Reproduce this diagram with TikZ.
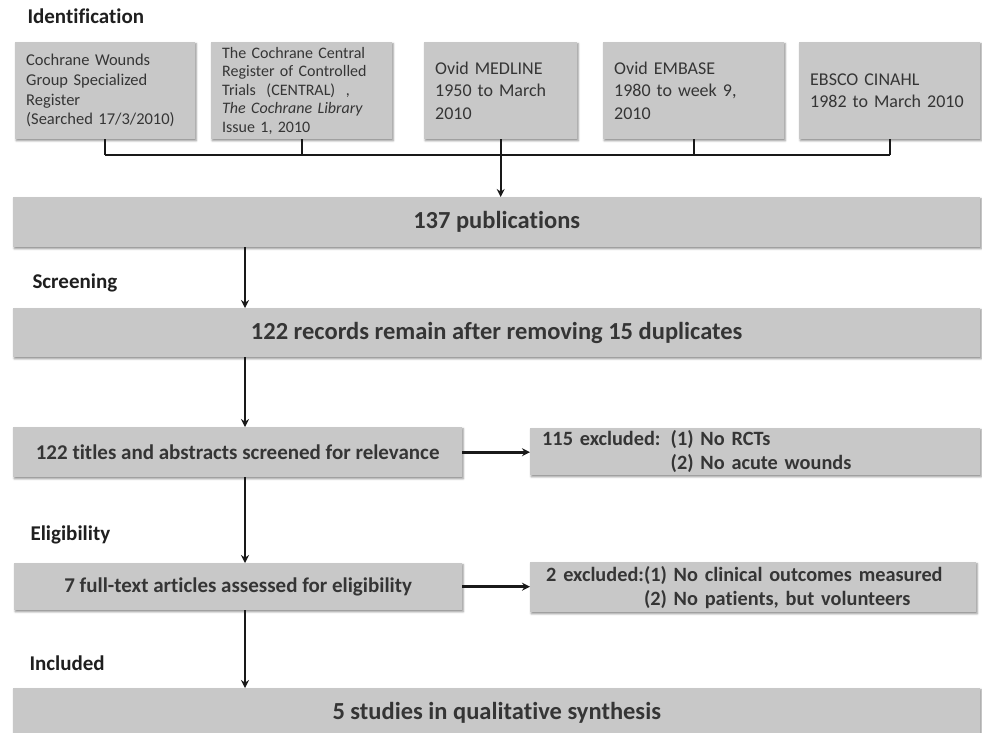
\documentclass[tikz,border=0pt]{standalone}
\usepackage{fontspec}
\setmainfont{Carlito}[Ligatures=NoCommon]
\usepackage{xcolor}
\usetikzlibrary{arrows.meta,calc,shadows.blur}
\definecolor{boxgray}{HTML}{C8C8C8}
\definecolor{boxtext}{HTML}{353535}
\tikzset{
	srcbox/.style={
			fill=boxgray, draw=none, anchor=north west,
			inner xsep=11pt, inner ysep=0pt, minimum height=97pt,
			align=left, text=boxtext,
			blur shadow={shadow xshift=1pt, shadow yshift=-1.5pt, shadow blur radius=2pt, shadow opacity=45}
		},
	stagebox/.style={
			fill=boxgray, draw=none, anchor=north west, inner sep=0pt,
			text=boxtext, font=\fontsize{24.5}{28}\selectfont\bfseries,
			blur shadow={shadow xshift=1pt, shadow yshift=-1.5pt, shadow blur radius=2pt, shadow opacity=45}
		},
	exclbox/.style={
			stagebox, inner xsep=12pt, align=left,
			font=\fontsize{20.3}{24}\selectfont\bfseries
		},
	phase/.style={anchor=base west, text=black!88, font=\fontsize{21}{25}\selectfont\bfseries},
	conn/.style={line width=1.8pt, black!90},
	side/.style={line width=2.6pt, black!90}
}

\begin{document}
\begin{tikzpicture}[x=1pt,y=-1pt,>={Stealth[length=8pt,width=8pt]}]
	\useasboundingbox (0,0) rectangle (982,732);

	% phases
	\node[phase] (idf) at (24,23) {Identification};
	\node[phase] (scr) at (29,288) {Screening};
	\node[phase] (elg) at (27,540) {Eligibility};
	\node[phase] (inc) at (26,670) {Included};

	% databases searched
	\node[srcbox, text width=158pt, font=\fontsize{16.5}{19.7}\selectfont] (cwg) at (15,42)
	{Cochrane Wounds\\Group Specialized\\Register\\(Searched 17/3/2010)};
	\node[srcbox, text width=159pt, font=\fontsize{16}{18.4}\selectfont] (central) at (211,42)
	{The Cochrane Central\\Register of Controlled\\Trials~ (CENTRAL)~ ,\\\textit{The Cochrane Library}\\Issue 1, 2010};
	\node[srcbox, text width=131pt, font=\fontsize{18}{22.5}\selectfont] (medline) at (424,42)
	{Ovid MEDLINE\\1950 to March\\2010};
	\node[srcbox, text width=159pt, font=\fontsize{18}{22.5}\selectfont] (embase) at (603,42)
	{Ovid EMBASE\\1980 to week 9,\\2010};
	\node[srcbox, text width=159pt, font=\fontsize{18}{22.5}\selectfont] (cinahl) at (799,42)
	{EBSCO CINAHL\\1982 to March 2010};

	% flow boxes
	\node[stagebox, minimum width=967pt, minimum height=50pt] (pubs) at (13,197) {137 publications};
	\node[stagebox, minimum width=967pt, minimum height=49pt] (records) at (13,308)
	{122 records remain after removing 15 duplicates};
	\node[stagebox, minimum width=449pt, minimum height=50pt, font=\fontsize{21}{25}\selectfont\bfseries] (titles) at (13,427)
	{122 titles and abstracts screened for relevance};
	\node[exclbox, text width=426pt, minimum height=47pt] (excl1) at (530,428)
	{115 excluded: (1) No RCTs\\\phantom{115 excluded: }(2) No acute wounds};
	\node[stagebox, minimum width=448pt, minimum height=47pt, font=\fontsize{21}{25}\selectfont\bfseries] (fulltext) at (14,563)
	{7 full-text articles assessed for eligibility};
	\node[exclbox, text width=422pt, minimum height=50pt] (excl2) at (530,562)
	{\hspace*{4pt}2 excluded:(1) No clinical outcomes measured\\\hspace*{4pt}\phantom{2 excluded:}(2) No patients, but volunteers};
	\node[stagebox, minimum width=967pt, minimum height=50pt] (synth) at (13,688) {5 studies in qualitative synthesis};

	% connectors
	\coordinate (bar) at (0,155);
	\coordinate (spine) at (245,0);
	\foreach \s in {cwg,central,medline,embase,cinahl}
	\draw[conn] (\s.south) -- (\s.south |- bar);
	\draw[conn] (cwg.south |- bar) -- (cinahl.south |- bar);
	\draw[conn,->] (medline.south |- bar) -- (medline.south |- pubs.north);

	\draw[conn,->] (pubs.south -| spine) -- (records.north -| spine);
	\draw[conn,->] (records.south -| spine) -- (titles.north -| spine);
	\draw[side,->] (titles.east) -- (excl1.west |- titles.east);
	\draw[conn,->] (titles.south -| spine) -- (fulltext.north -| spine);
	\draw[side,->] (fulltext.east) -- (excl2.west |- fulltext.east);
	\draw[conn,->] (fulltext.south -| spine) -- (synth.north -| spine);
\end{tikzpicture}
\end{document}
